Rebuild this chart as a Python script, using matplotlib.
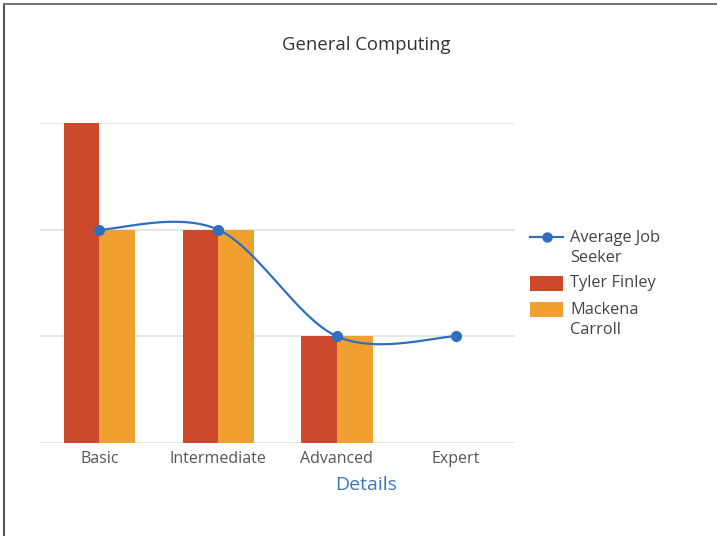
import numpy as np
import matplotlib
matplotlib.use("Agg")
import matplotlib.pyplot as plt
from matplotlib.lines import Line2D
from matplotlib.patches import Rectangle

categories = ["Basic", "Intermediate", "Advanced", "Expert"]
tyler = [3, 2, 1, 0]
mackena = [2, 2, 1, 0]
average = [2, 2, 1, 1]
series_names = ["Average Job\nSeeker", "Tyler Finley", "Mackena\nCarroll"]

RED = "#cc4a2b"
ORANGE = "#f0a031"
BLUE = "#2f6fc0"

plt.rcParams['font.family'] = ['Open Sans', 'DejaVu Sans']

W, H = 717, 536
fig = plt.figure(figsize=(W / 100, H / 100), dpi=100)
ax = fig.add_axes([40 / W, 1 - 443 / H, (515 - 40) / W, (443 - 123) / H])

x = np.arange(len(categories))
bw = 0.3
ax.bar(x - bw / 2, tyler, width=bw, color=RED, zorder=2)
ax.bar(x + bw / 2, mackena, width=bw, color=ORANGE, zorder=2)

# Catmull-Rom spline through the average points
def catmull(xs, ys, n=60):
    P = np.column_stack([xs, ys]).astype(float)
    P = np.vstack([P[0], P, P[-1]])
    out = []
    for i in range(1, len(P) - 2):
        p0, p1, p2, p3 = P[i - 1], P[i], P[i + 1], P[i + 2]
        m1 = (p2 - p0) / 2
        m2 = (p3 - p1) / 2
        t = np.linspace(0, 1, n)[:, None]
        h00 = 2 * t**3 - 3 * t**2 + 1
        h10 = t**3 - 2 * t**2 + t
        h01 = -2 * t**3 + 3 * t**2
        h11 = t**3 - t**2
        out.append(h00 * p1 + h10 * m1 + h01 * p2 + h11 * m2)
    return np.vstack(out)

curve = catmull(x, average)
ax.plot(curve[:, 0], curve[:, 1], color=BLUE, lw=1.6, zorder=3)
ax.plot(x, average, 'o', color=BLUE, ms=7, zorder=4)

ax.set_xlim(-0.5, len(categories) - 0.5)
ax.set_ylim(0, 3)
ax.set_yticks([0, 1, 2, 3])
ax.yaxis.grid(True, color="#e2e2e2", lw=1.2, zorder=0)
ax.tick_params(axis='y', left=False, labelleft=False)
ax.set_xticks(x)
ax.set_xticklabels(categories, fontsize=11.5, color="#555555")
ax.tick_params(axis='x', length=0, pad=6)
for s in ax.spines.values():
    s.set_visible(False)

fig.text(366 / W, 1 - 45 / H, "General Computing", ha="center", va="center",
         fontsize=13.3, color="#333333")
fig.text(366 / W, 1 - 485 / H, "Details", ha="center", va="center",
         fontsize=14, color="#3b78b8")

# legend, drawn by hand so the handles sit on the first text line
def fx(px):
    return px / W

def fy(py):
    return 1 - py / H

lfs = 11.8
fig.add_artist(Line2D([fx(530), fx(563)], [fy(237), fy(237)], color=BLUE, lw=1.6))
fig.add_artist(Line2D([fx(546.5)], [fy(237)], color=BLUE, marker='o', ms=6.5, lw=0))
fig.text(fx(570), fy(229.5), series_names[0], ha="left", va="top", fontsize=lfs,
         color="#444444", linespacing=1.36)
fig.add_artist(Rectangle((fx(530), fy(291)), fx(33), 15 / H, facecolor=RED,
                         edgecolor="none", transform=fig.transFigure))
fig.text(fx(570), fy(283), series_names[1], ha="left", va="center", fontsize=lfs,
         color="#444444")
fig.add_artist(Rectangle((fx(530), fy(317)), fx(33), 15 / H, facecolor=ORANGE,
                         edgecolor="none", transform=fig.transFigure))
fig.text(fx(570), fy(301.5), series_names[2], ha="left", va="top", fontsize=lfs,
         color="#444444", linespacing=1.36)

# frame border (top and left)
fig.add_artist(Line2D([4 / W, 4 / W], [0, 1 - 4 / H], color="#555555", lw=1.5))
fig.add_artist(Line2D([4 / W, 1], [1 - 4 / H, 1 - 4 / H], color="#777777", lw=1.5))

fig.savefig("out.png", dpi=100)
